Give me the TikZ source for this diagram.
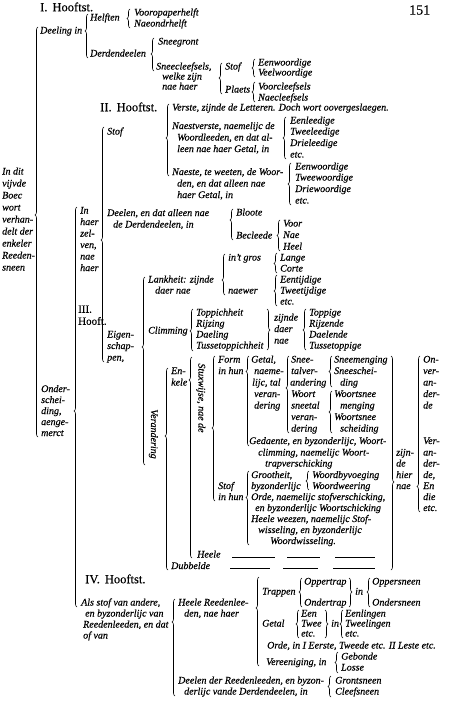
\documentclass[tikz,border=0pt]{standalone}
\usepackage{fontspec}
\setmainfont{Liberation Serif}[ItalicFeatures={FakeBold=0.35},UprightFeatures={FakeBold=0.25}]
\usetikzlibrary{decorations.pathreplacing}
\newcommand\txtfont{\fontsize{10}{11}\selectfont\itshape}
\newcommand\hdfont{\fontsize{11}{12}\selectfont\upshape}
\newcommand\bighdfont{\fontsize{12.5}{13}\selectfont\upshape}
\tikzset{
  t/.style={font=\txtfont, inner sep=0pt, anchor=west, text height=6.5pt, text depth=1.5pt},
  hd/.style={font=\hdfont, inner sep=0pt, anchor=west, text height=7pt, text depth=1.5pt},
  bighd/.style={font=\bighdfont, inner sep=0pt, anchor=west, text height=8pt, text depth=1.5pt},
  br/.style={line width=0.6pt, decorate},
  dashline/.style={line width=0.6pt}
}
% left brace: path x, top, bottom, tip
\newcommand\Lbr[4]{%
  \pgfmathsetmacro\braceasp{(#3-#4)/(#3-#2)}%
  \draw[br, decoration={brace, amplitude=3pt, aspect=\braceasp}] (#1,#3) -- (#1,#2);}
% right brace
\newcommand\Rbr[4]{%
  \pgfmathsetmacro\braceasp{(#4-#2)/(#3-#2)}%
  \draw[br, decoration={brace, amplitude=3pt, aspect=\braceasp}] (#1,#2) -- (#1,#3);}
\newcommand\Tx[4]{\node[t] (#1) at (#2,#3) {#4};}
\begin{document}
\begin{tikzpicture}[x=1pt,y=-1pt]
\useasboundingbox (0,0) rectangle (450,701);
\fill[white] (0,0) rectangle (450,701);
% headings
\node[bighd] (h1) at (40,8) {I.\hspace{5pt}Hooftst.};
\node[font=\fontsize{14}{14}\selectfont, inner sep=0pt, anchor=west] (pg) at (409,10) {151};
\node[bighd] (h2) at (100,108) {II.\hspace{5pt}Hooftst.};
\node[hd] (h3a) at (78,310) {III.};
\node[hd] (h3b) at (78,322) {Hooft.};
\node[bighd] (h4) at (85,580) {IV.\hspace{5pt}Hooftst.};
% root
\Tx{r1}{2}{172}{In dit}
\Tx{r2}{2}{184}{vijvde}
\Tx{r3}{2}{196}{Boec}
\Tx{r4}{2}{208}{wort}
\Tx{r5}{2}{220}{verhan-}
\Tx{r6}{2}{232}{delt der}
\Tx{r7}{2}{244}{enkeler}
\Tx{r8}{2}{256}{Reeden-}
\Tx{r9}{2}{268}{sneen}
\Lbr{38}{27}{437}{215}
% Section I
\Tx{deeling}{40}{31}{Deeling in}
\Lbr{88}{14}{58}{31}
\Tx{helften}{90}{18}{Helften}
\Lbr{130}{9}{28}{18.5}
\Tx{voorop}{134}{13}{Vooropaperhelft}
\Tx{naeond}{134}{24}{Naeondrhelft}
\Tx{derd}{90}{54}{Derdendeelen}
\Lbr{154}{38}{71}{54}
\Tx{sneeg}{158}{42}{Sneegront}
\Tx{sc1}{156}{67}{Sneecleefsels,}
\Tx{sc2}{162}{77}{welke zijn}
\Tx{sc3}{162}{87}{nae haer}
\Lbr{222}{63}{94}{78}
\Tx{stofa}{225}{67}{Stof}
\Lbr{255}{59}{77}{68}
\Tx{eenwa}{258}{63}{Eenwoordige}
\Tx{veelw}{258}{73}{Veelwoordige}
\Tx{plaets}{225}{90}{Plaets}
\Lbr{255}{82}{102}{92}
\Tx{voorc}{258}{87}{Voorcleefsels}
\Tx{naec}{258}{98}{Naecleefsels}
% Onderscheiding
\Tx{o1}{41}{389.5}{Onder-}
\Tx{o2}{41}{400.5}{schei-}
\Tx{o3}{41}{411.5}{ding,}
\Tx{o4}{41}{422.5}{aenge-}
\Tx{o5}{41}{433.5}{merct}
\Lbr{77}{207}{607}{411}
% In haer zelven
\Tx{ih1}{80}{211}{In}
\Tx{ih2}{80}{222.5}{haer}
\Tx{ih3}{80}{234}{zel-}
\Tx{ih4}{80}{245.5}{ven,}
\Tx{ih5}{80}{257}{nae}
\Tx{ih6}{80}{268.5}{haer}
\Lbr{104}{127}{362}{240}
% Section II
\Tx{stofb}{107}{132}{Stof}
\Lbr{169}{104}{176}{138}
\Tx{verste}{172}{108}{Verste, zijnde de Letteren. Doch wort oovergeslaegen.}
\Tx{nv1}{172}{126.5}{Naestverste, naemelijc de}
\Tx{nv2}{177}{138}{Woordleeden, en dat al-}
\Tx{nv3}{177}{149.5}{leen nae haer Getal, in}
\Lbr{286}{117}{159}{138}
\Tx{eenl}{290}{121}{Eenleedige}
\Tx{tweel}{290}{132}{Tweeleedige}
\Tx{driel}{290}{143.5}{Drieleedige}
\Tx{etca}{290}{155}{etc.}
\Tx{ns1}{172}{172.5}{Naeste, te weeten, de Woor-}
\Tx{ns2}{177}{184}{den, en dat alleen nae}
\Tx{ns3}{177}{195.5}{haer Getal, in}
\Lbr{291}{163}{205}{184}
\Tx{eenwb}{295}{167}{Eenwoordige}
\Tx{tweew}{295}{178}{Tweewoordige}
\Tx{driew}{295}{189.5}{Driewoordige}
\Tx{etcb}{295}{201}{etc.}
\Tx{dl1}{107}{213.5}{Deelen, en dat alleen nae}
\Tx{dl2}{113}{225}{de Derdendeelen, in}
\Lbr{233}{209}{240}{220}
\Tx{bloote}{236}{213}{Bloote}
\Tx{becl}{236}{236}{Becleede}
\Lbr{280}{220}{251}{235.5}
\Tx{voorp}{283}{224}{Voor}
\Tx{naep}{283}{235.5}{Nae}
\Tx{heelp}{283}{247}{Heel}
% Section III
\Tx{eg1}{107}{335}{Eigen-}
\Tx{eg2}{107}{346.5}{schap-}
\Tx{eg3}{107}{358}{pen,}
\Lbr{145}{277}{465}{347}
\Tx{lk1}{148}{280}{Lankheit: zijnde}
\Tx{lk2}{155}{291}{daer nae}
\Lbr{225}{254}{295}{280}
\Tx{gros}{228}{258}{in't gros}
\Tx{naewer}{228}{291}{naewer}
\Lbr{277}{253}{273}{263.5}
\Tx{lange}{280}{258}{Lange}
\Tx{corte}{280}{269}{Corte}
\Lbr{277}{275}{306}{291}
\Tx{eent}{280}{280}{Eentijdige}
\Tx{tweet}{280}{291}{Tweetijdige}
\Tx{etcc}{280}{302}{etc.}
\Tx{climm}{148}{331}{Climming}
\Lbr{193}{309}{351}{331}
\Tx{tp1}{196}{313}{Toppichheit}
\Tx{tp2}{196}{324}{Rijzing}
\Tx{tp3}{196}{335}{Daeling}
\Tx{tp4}{196}{346}{Tussetoppichheit}
\Rbr{267}{309}{350}{330}
\Tx{zd1}{274}{318}{zijnde}
\Tx{zd2}{274}{329.5}{daer}
\Tx{zd3}{274}{341}{nae}
\Lbr{306}{309}{350}{330}
\Tx{tg1}{309}{313}{Toppige}
\Tx{tg2}{309}{324}{Rijzende}
\Tx{tg3}{309}{335}{Daelende}
\Tx{tg4}{309}{346}{Tussetoppige}
% Verandering
\node[t, rotate=-90, anchor=center] (verand) at (153.5,434) {Verandering};
\Lbr{168}{368}{570}{436}
\Tx{en1}{171}{371.5}{En-}
\Tx{en2}{171}{383}{kele}
\Lbr{192}{357}{558}{380}
\node[t, rotate=-90, anchor=center] (stux) at (201,398) {Stuxwijse, nae de};
\Lbr{215}{356}{501}{428}
\Tx{fm1}{218}{360}{Form}
\Tx{fm2}{218}{371.5}{in hun}
\Lbr{249}{356}{446}{371.5}
\Tx{gt1}{251}{360}{Getal,}
\Tx{gt2}{254}{371.5}{naeme-}
\Tx{gt3}{252}{383}{lijc, tal}
\Tx{gt4}{254}{394.5}{veran-}
\Tx{gt5}{254}{406}{dering}
\Lbr{289}{356}{433}{388}
\Tx{sn1}{291}{360}{Snee-}
\Tx{sn2}{291}{371.5}{talver-}
\Tx{sn3}{290}{383}{andering}
\Tx{sn4}{291}{394.5}{Woort}
\Tx{sn5}{291}{406}{sneetal}
\Tx{sn6}{291}{417.5}{veran-}
\Tx{sn7}{291}{429}{dering}
\Lbr{332}{356}{387}{371.5}
\Tx{sm1}{334}{360}{Sneemenging}
\Tx{sm2}{334}{371.5}{Sneeschei-}
\Tx{sm3}{340}{383}{ding}
\Lbr{332}{391}{433}{412}
\Tx{ws1}{334}{394.5}{Woortsnee}
\Tx{ws2}{340}{406}{menging}
\Tx{ws3}{334}{417.5}{Woortsnee}
\Tx{ws4}{340}{429}{scheiding}
\Tx{gd1}{249}{441.5}{Gedaente, en byzonderlijc, Woort-}
\Tx{gd2}{258}{453}{climming, naemelijc Woort-}
\Tx{gd3}{265}{464}{trapverschicking}
\Tx{st1}{218}{486.5}{Stof}
\Tx{st2}{218}{497.5}{in hun}
\Lbr{249}{471}{545}{497.5}
\Tx{gr1}{251}{475.5}{Grootheit,}
\Tx{gr2}{251}{486.5}{byzonderlijc}
\Lbr{309}{471}{490}{481}
\Tx{wbv}{312}{475.5}{Woordbyvoeging}
\Tx{wwe}{312}{486.5}{Woordweering}
\Tx{od1}{251}{497.5}{Orde, naemelijc stofverschicking,}
\Tx{od2}{255}{508.5}{en byzonderlijc Woortschicking}
\Tx{hw1}{251}{519.5}{Heele weezen, naemelijc Stof-}
\Tx{hw2}{258}{530.5}{wisseling, en byzonderlijc}
\Tx{hw3}{270}{541.5}{Woordwisseling.}
\Tx{heele}{197}{555}{Heele}
\Tx{dubb}{171}{566.5}{Dubbelde}
\draw[dashline] (232,557) -- (275,557);
\draw[dashline] (287,557) -- (320,557);
\draw[dashline] (335,557) -- (375,557);
\draw[dashline] (230,568) -- (270,568);
\draw[dashline] (283,568) -- (318,568);
\draw[dashline] (333,568) -- (375,568);
\Rbr{391}{356}{570}{482}
\Tx{zh1}{396}{453}{zijn-}
\Tx{zh2}{396}{464}{de}
\Tx{zh3}{396}{475.5}{hier}
\Tx{zh4}{396}{486.5}{nae}
\Lbr{420}{356}{512}{486.5}
\Tx{on1}{423}{360}{On-}
\Tx{on2}{423}{371.5}{ver-}
\Tx{on3}{423}{383}{an-}
\Tx{on4}{423}{394.5}{der-}
\Tx{on5}{423}{406}{de}
\Tx{vr1}{423}{441.5}{Ver-}
\Tx{vr2}{423}{453}{an-}
\Tx{vr3}{423}{464}{der-}
\Tx{vr4}{423}{475.5}{de,}
\Tx{vr5}{423}{486.5}{En}
\Tx{vr6}{423}{497.5}{die}
\Tx{vr7}{423}{508.5}{etc.}
% Section IV
\Tx{as1}{81}{603}{Als stof van andere,}
\Tx{as2}{85}{614}{en byzonderlijc van}
\Tx{as3}{83}{625}{Reedenleeden, en dat}
\Tx{as4}{83}{636}{of van}
\Lbr{175}{599}{696}{622}
\Tx{hr1}{178}{603}{Heele Reedenlee-}
\Tx{hr2}{184}{614}{den, nae haer}
\Lbr{259}{577}{666}{608}
\Tx{trap}{262}{592}{Trappen}
\Lbr{302}{578}{607}{592}
\Tx{opt}{304}{582}{Oppertrap}
\Tx{ont}{304}{603}{Ondertrap}
\Rbr{349}{578}{607}{592}
\Tx{ina}{355}{592}{in}
\Lbr{370}{578}{607}{592}
\Tx{ops}{372}{582}{Oppersneen}
\Tx{ons}{372}{603}{Ondersneen}
\Tx{getal}{262}{624}{Getal}
\Lbr{299}{610}{638}{624}
\Tx{een}{301}{614}{Een}
\Tx{twee}{301}{624}{Twee}
\Tx{etcd}{301}{634}{etc.}
\Rbr{325}{610}{638}{624}
\Tx{inb}{331}{624}{in}
\Lbr{343}{610}{638}{624}
\Tx{eenlg}{345}{614}{Eenlingen}
\Tx{tweelg}{345}{624}{Tweelingen}
\Tx{etce}{345}{634}{etc.}
\Tx{orde}{267}{646}{Orde, in I Eerste, Tweede etc. II Leste etc.}
\Tx{veren}{266}{662.5}{Vereeniging, in}
\Lbr{338}{652}{673}{662.5}
\Tx{gebonde}{341}{657}{Gebonde}
\Tx{losse}{341}{668}{Losse}
\Tx{dr1}{178}{681}{Deelen der Reedenleeden, en byzon-}
\Tx{dr2}{184}{692}{derlijc vande Derdendeelen, in}
\Lbr{331}{676}{697}{686.5}
\Tx{gront}{335}{681}{Grontsneen}
\Tx{cleef}{335}{692}{Cleefsneen}
\end{tikzpicture}
\end{document}
